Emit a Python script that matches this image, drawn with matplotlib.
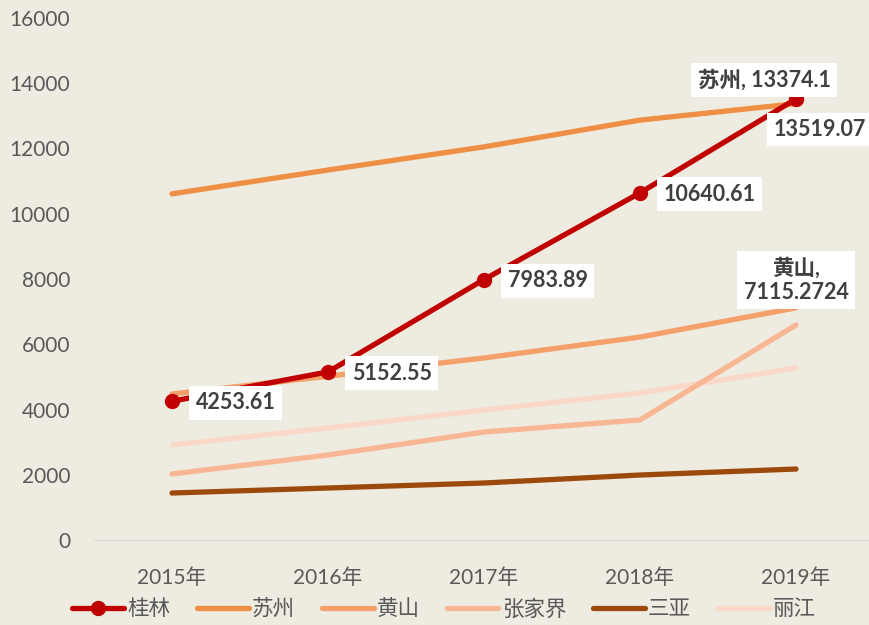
import matplotlib
matplotlib.use("Agg")
import matplotlib.pyplot as plt

plt.rcParams['font.family'] = ['Lato', 'Noto Sans CJK SC', 'DejaVu Sans']

years = ["2015年", "2016年", "2017年", "2018年", "2019年"]
guilin = [4253.61, 5152.55, 7983.89, 10640.61, 13519.07]
suzhou = [10610, 11340, 12050, 12870, 13374.1]
huangshan = [4475, 5020, 5580, 6220, 7115.2724]
zhangjiajie = [2023, 2605, 3310, 3680, 6590]
sanya = [1440, 1594, 1747, 1992, 2176]
lijiang = [2911, 3433, 3985, 4505, 5272]

series = [
    ("桂林", guilin, "#C00000"),
    ("苏州", suzhou, "#EF8F45"),
    ("黄山", huangshan, "#F5A06A"),
    ("张家界", zhangjiajie, "#F8B693"),
    ("三亚", sanya, "#9C4A0C"),
    ("丽江", lijiang, "#FAD8C8"),
]

bg = "#EEEBE1"
fig = plt.figure(figsize=(8.69, 6.25), dpi=100, facecolor=bg)
ax = fig.add_axes([94 / 869, 1 - 540 / 625, 780 / 869, 522 / 625])
ax.set_facecolor(bg)

x = list(range(len(years)))
# draw in reverse so 桂林 stays on top
for name, vals, color in reversed(series):
    if name == "桂林":
        ax.plot(x, vals, color=color, lw=3.8, marker="o", ms=10,
                solid_capstyle="round", label=name, zorder=5)
    else:
        ax.plot(x, vals, color=color, lw=3.8, solid_capstyle="round",
                label=name, zorder=3)

ax.set_xlim(-0.5, 4.5)
ax.set_ylim(0, 16000)
ax.set_yticks(range(0, 16001, 2000))
ax.set_xticks(x)
ax.set_xticklabels(years)
ax.tick_params(axis="both", length=0, colors="#595959", labelsize=15)
ax.tick_params(axis="y", pad=17)
ax.tick_params(axis="x", pad=20)
for s in ["top", "right", "left"]:
    ax.spines[s].set_visible(False)
ax.spines["bottom"].set_color("#D9D9D9")

box = dict(boxstyle="square,pad=0.3", fc="white", ec="none")
lab_kw = dict(fontsize=15.5, fontweight="bold", color="#404040", bbox=box, zorder=10)

for i in range(4):
    ax.annotate(f"{guilin[i]:.2f}", (x[i], guilin[i]), xytext=(17, -1),
                textcoords="offset points", ha="left", va="center", **lab_kw)
ax.annotate(f"{guilin[4]:.2f}", (x[4], guilin[4]), xytext=(-16, -22),
            textcoords="offset points", ha="left", va="center", **lab_kw)
ax.annotate(f"苏州, {suzhou[4]}", (x[4], suzhou[4]), xytext=(-23, 17),
            textcoords="offset points", ha="center", va="center", **lab_kw)
ax.annotate(f"黄山,\n{huangshan[4]}", (x[4], huangshan[4]), xytext=(0, 20),
            textcoords="offset points", ha="center", va="center",
            linespacing=1.15, **lab_kw)

handles, labels = ax.get_legend_handles_labels()
order = [labels.index(n) for n, _, _ in series]
leg = fig.legend([handles[i] for i in order], [labels[i] for i in order],
                 loc="center", bbox_to_anchor=(0.511, 1 - 609 / 625), ncol=6,
                 frameon=False, prop={"size": 15.5, "weight": "light"},
                 handlelength=2.4, columnspacing=1.25, handletextpad=0.15)
for t in leg.get_texts():
    t.set_color("#595959")

fig.savefig("out.png", dpi=100, facecolor=bg)
